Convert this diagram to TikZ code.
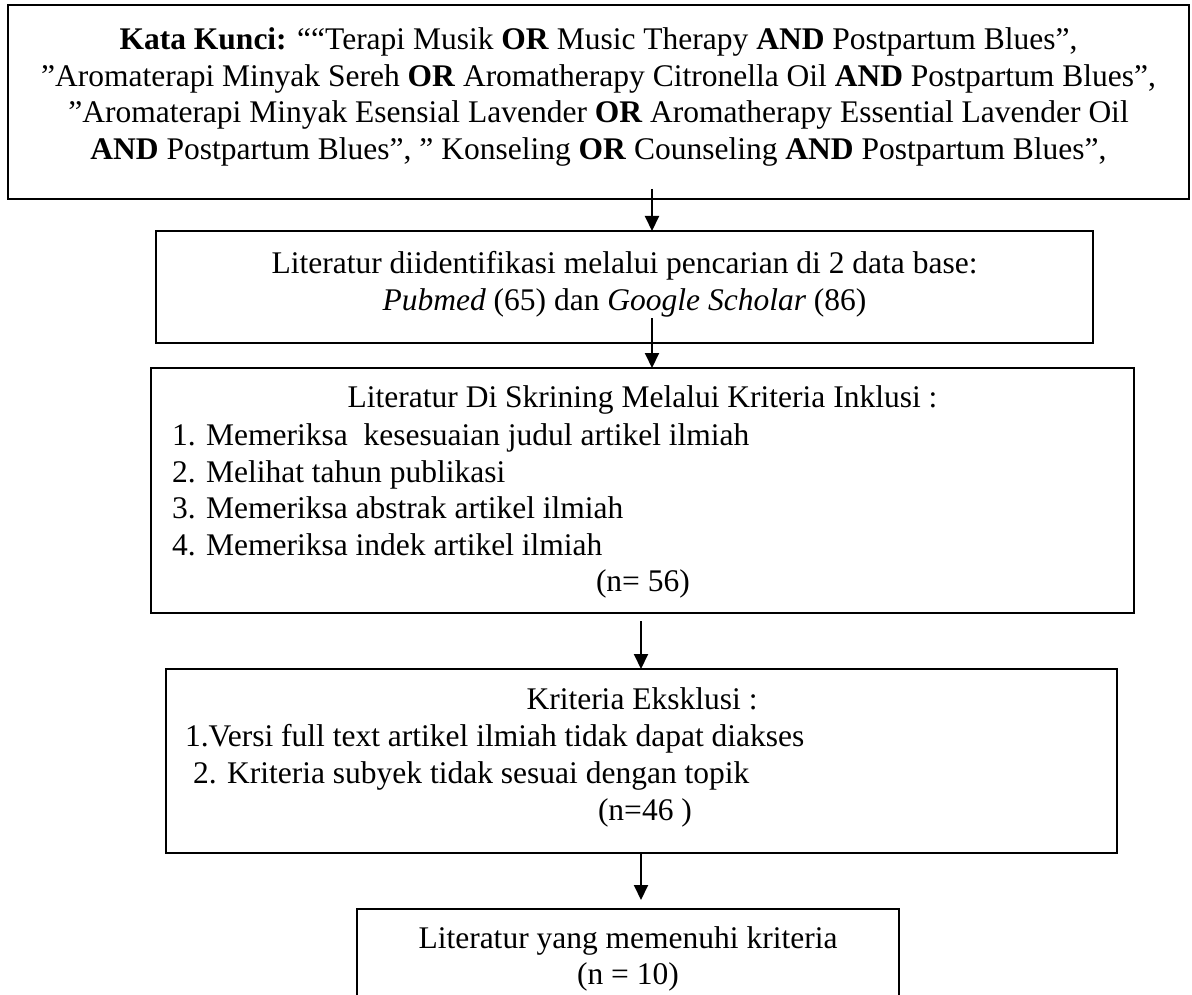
\documentclass[tikz,border=0pt]{standalone}
\usepackage{fontspec}
\setmainfont{Liberation Serif}
\usetikzlibrary{arrows.meta,calc}
\begin{document}
\begin{tikzpicture}[x=1pt,y=-1pt,
  box/.style={draw=black, line width=2pt, inner sep=0pt, outer sep=0pt, anchor=north west},
  txt/.style={inner sep=0pt, outer sep=0pt, font=\fontsize{31.5}{36.5}\selectfont},
  arr/.style={line width=2pt, -{Triangle[length=15pt,width=14pt]}}]
\useasboundingbox (0,0) rectangle (1192,995);
\clip (0,0) rectangle (1192,995);
% boxes
\node[box, minimum width=1181pt, minimum height=194pt] (b1) at (8,5) {};
\node[box, minimum width=937pt, minimum height=112pt] (b2) at (156,231) {};
\node[box, minimum width=983pt, minimum height=245pt] (b3) at (151,368) {};
\node[box, minimum width=951pt, minimum height=184pt] (b4) at (166,669) {};
\node[box, minimum width=542pt, minimum height=130pt] (b5) at (357,909) {};
% box 1 text
\node[txt, anchor=base] (k1) at (598.5,50) {\textbf{Kata Kunci:} ““Terapi Musik \textbf{OR} Music Therapy \textbf{AND} Postpartum Blues”,};
\node[txt, anchor=base] (k2) at (598.5,86.5) {”Aromaterapi Minyak Sereh \textbf{OR} Aromatherapy Citronella Oil \textbf{AND} Postpartum Blues”,};
\node[txt, anchor=base] (k3) at (598.5,123) {”Aromaterapi Minyak Esensial Lavender \textbf{OR} Aromatherapy Essential Lavender Oil};
\node[txt, anchor=base] (k4) at (598.5,159.5) {\textbf{AND} Postpartum Blues”, ” Konseling \textbf{OR} Counseling \textbf{AND} Postpartum Blues”,};
% box 2 text
\node[txt, anchor=base] (i1) at (624.5,274) {Literatur diidentifikasi melalui pencarian di 2 data base:};
\node[txt, anchor=base] (i2) at (624.5,310) {\textit{Pubmed} (65) dan \textit{Google Scholar} (86)};
% box 3 text
\node[txt, anchor=base] (s0) at (642.5,407) {Literatur Di Skrining Melalui Kriteria Inklusi :};
\node[txt, anchor=base west] (s1) at (172,445) {1. Memeriksa\ \ kesesuaian judul artikel ilmiah};
\node[txt, anchor=base west] (s2) at (172,482) {2. Melihat tahun publikasi};
\node[txt, anchor=base west] (s3) at (172,518) {3. Memeriksa abstrak artikel ilmiah};
\node[txt, anchor=base west] (s4) at (172,555) {4. Memeriksa indek artikel ilmiah};
\node[txt, anchor=base west] (s5) at (596,591) {(n= 56)};
% box 4 text
\node[txt, anchor=base] (e0) at (642,709) {Kriteria Eksklusi :};
\node[txt, anchor=base west] (e1) at (185,746) {1.Versi full text artikel ilmiah tidak dapat diakses};
\node[txt, anchor=base west] (e2) at (193,783) {2. Kriteria subyek tidak sesuai dengan topik};
\node[txt, anchor=base west] (e3) at (598,820) {(n=46 )};
% box 5 text
\node[txt, anchor=base] (r1) at (628,948) {Literatur yang memenuhi kriteria};
\node[txt, anchor=base] (r2) at (628,984) {(n = 10)};
% arrows
\coordinate (a1) at (652,189);
\coordinate (a2) at (652,318);
\coordinate (a3) at (641,621);
\coordinate (a4) at (641,0);
\draw[arr] (a1) -- (a1 |- b2.north);
\draw[arr] (a2) -- (a2 |- b3.north);
\draw[arr] (a3) -- (a3 |- b4.north);
\draw[arr] (a4 |- b4.south) -- ($(a4 |- b5.north)+(0,-9)$);
\end{tikzpicture}
\end{document}
